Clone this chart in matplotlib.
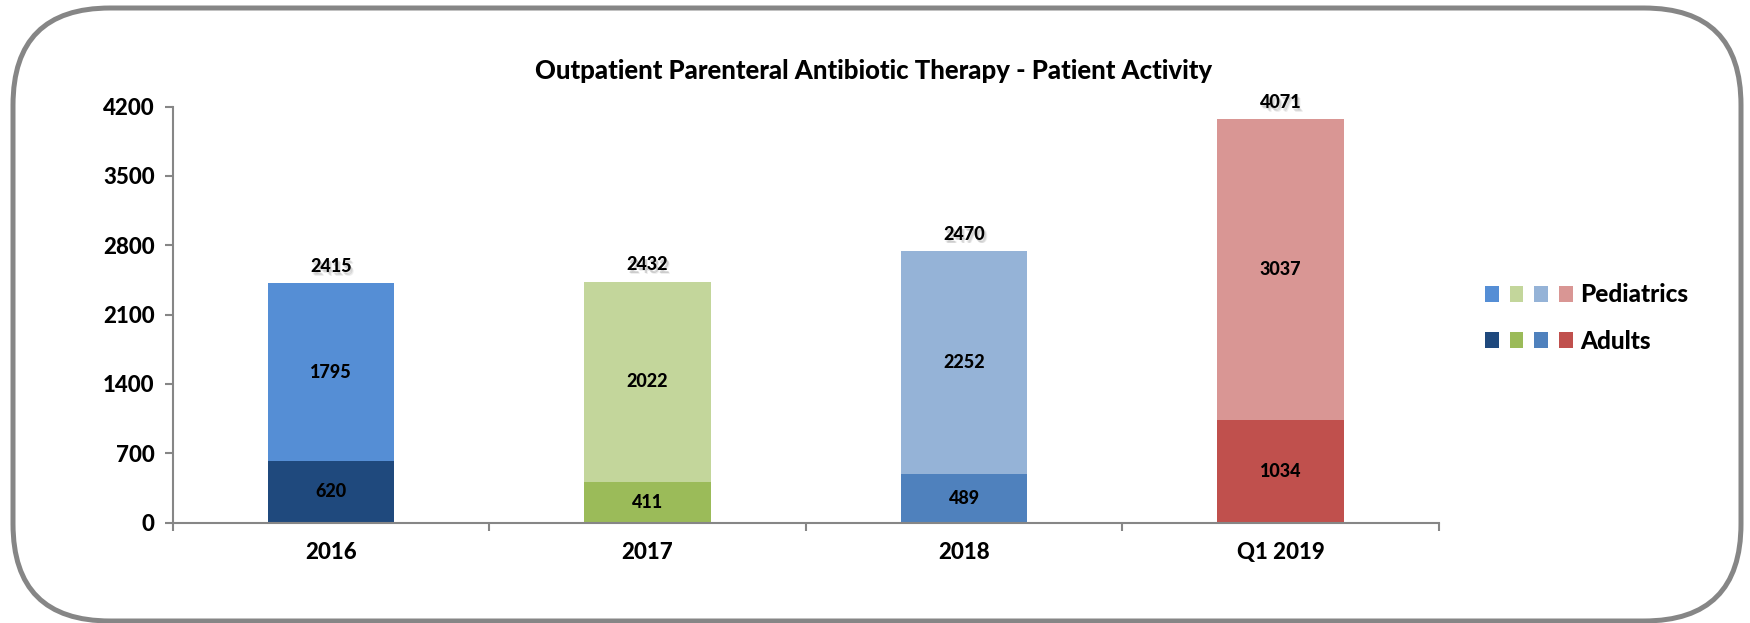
import matplotlib
matplotlib.use("Agg")
import matplotlib.pyplot as plt
from matplotlib.patches import FancyBboxPatch
from matplotlib.legend_handler import HandlerTuple

categories = ["2016", "2017", "2018", "Q1 2019"]
adults = [620, 411, 489, 1034]
pediatrics = [1795, 2022, 2252, 3037]
totals = [2415, 2432, 2470, 4071]
adult_colors = ["#1F497D", "#9BBB59", "#4F81BD", "#C0504D"]
ped_colors = ["#558ED5", "#C3D69B", "#95B3D7", "#D99694"]
yticks = [0, 700, 1400, 2100, 2800, 3500, 4200]

W = 900  # heaviest Lato face available
plt.rcParams["font.family"] = ["Lato", "DejaVu Sans"]
plt.rcParams["font.weight"] = W

fig = plt.figure(figsize=(17.5, 6.23), dpi=100)

# rounded frame around the whole chart, drawn in pixel units
bg = fig.add_axes([0, 0, 1, 1])
bg.set_xlim(0, 1750); bg.set_ylim(0, 623); bg.axis("off")
bg.add_patch(FancyBboxPatch((13, 2), 1728, 613, boxstyle="round,pad=0,rounding_size=97",
                            fc="white", ec="#868686", lw=3.6))

ax = fig.add_axes([0.0987, 0.161, 0.7235, 0.668])
x = range(len(categories))
b_ad = ax.bar(x, adults, width=0.4, color=adult_colors)
b_ped = ax.bar(x, pediatrics, width=0.4, bottom=adults, color=ped_colors)

for i in x:
    ax.text(i, adults[i] / 2, str(adults[i]), ha="center", va="center", fontsize=13, fontweight=W)
    ax.text(i, adults[i] + pediatrics[i] / 2, str(pediatrics[i]), ha="center", va="center",
            fontsize=13, fontweight=W)
    top = adults[i] + pediatrics[i]
    # soft shadow under the total label
    for dx, dy, a in [(1.5, -2.0, 0.18), (2.0, -2.5, 0.12), (1.0, -1.5, 0.12)]:
        ax.annotate(str(totals[i]), (i, top), xytext=(dx, 12 + dy), textcoords="offset points",
                    ha="center", va="center", fontsize=13, fontweight=W, color="#777777", alpha=a)
    ax.annotate(str(totals[i]), (i, top), xytext=(0, 12), textcoords="offset points",
                ha="center", va="center", fontsize=13, fontweight=W)

ax.set_xlim(-0.5, 3.5)
ax.set_ylim(0, 4200)
ax.set_yticks(yticks)
ax.set_yticklabels([str(v) for v in yticks], fontsize=16, fontweight=W)
ax.set_xticks(list(x))
ax.set_xticklabels(categories, fontsize=16, fontweight=W)
ax.set_xticks([-0.5, 0.5, 1.5, 2.5, 3.5], minor=True)
ax.tick_params(axis="x", which="major", length=0, pad=14)
ax.tick_params(axis="x", which="minor", length=6, color="#868686", width=1.5)
ax.tick_params(axis="y", length=6, color="#868686", width=1.5, pad=7)
for s in ["top", "right"]:
    ax.spines[s].set_visible(False)
for s in ["left", "bottom"]:
    ax.spines[s].set_color("#868686")
    ax.spines[s].set_linewidth(1.5)

fig.text(0.4994, 1 - 71 / 623, "Outpatient Parenteral Antibiotic Therapy - Patient Activity",
         ha="center", va="center", fontsize=18.5, fontweight=W)

leg = ax.legend([tuple(b_ped.patches), tuple(b_ad.patches)], ["Pediatrics", "Adults"],
                handler_map={tuple: HandlerTuple(ndivide=None, pad=0.45)},
                loc="center left", bbox_to_anchor=(1485 / 1750, 1 - 318 / 623),
                bbox_transform=fig.transFigure, frameon=False, borderpad=0, borderaxespad=0,
                handlelength=3.6, handleheight=0.68, handletextpad=0.3, labelspacing=0.95,
                prop={"size": 17.5, "weight": W})

fig.savefig("out.png", dpi=100)
